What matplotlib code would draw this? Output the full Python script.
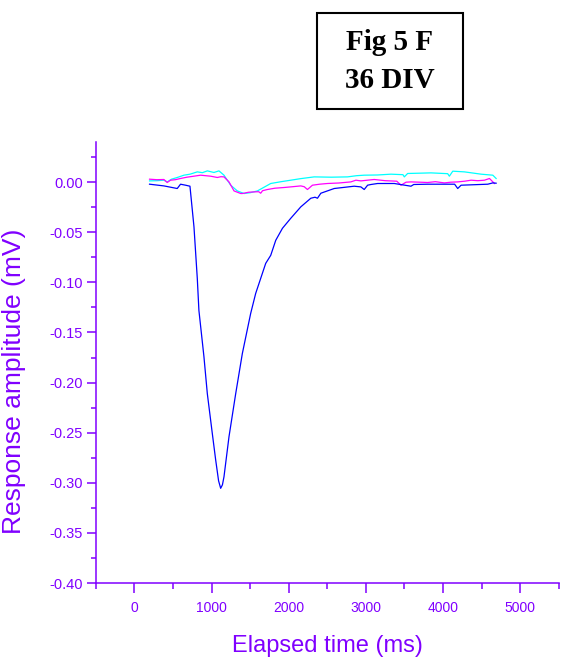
import numpy as np
import matplotlib
matplotlib.use("Agg")
import matplotlib.pyplot as plt
from matplotlib.patches import Rectangle
from matplotlib.ticker import MultipleLocator

# traces (time in ms, response in mV)
t_blue = [195, 381, 554, 597, 662, 719, 771, 814, 835, 900, 944, 1009, 1052, 1090, 1117,
          1140, 1160, 1225, 1312, 1398, 1506, 1571, 1636, 1701, 1766, 1831, 1918, 2026,
          2156, 2286, 2340, 2372, 2416, 2589, 2848, 2935, 2978, 3022, 3065, 3152, 3368,
          3584, 3620, 3801, 4150, 4190, 4234, 4580, 4645, 4688]
v_blue = [-0.002, -0.0037, -0.0063, -0.002, -0.003, -0.004, -0.0446, -0.096, -0.128,
          -0.174, -0.211, -0.251, -0.277, -0.298, -0.3055, -0.302, -0.294, -0.254, -0.211,
          -0.171, -0.131, -0.111, -0.096, -0.081, -0.073, -0.058, -0.046, -0.036, -0.0246,
          -0.016, -0.015, -0.016, -0.011, -0.0063, -0.004, -0.0047, -0.0073, -0.003,
          -0.0023, -0.0013, -0.0013, -0.004, -0.0023, -0.002, -0.002, -0.0063, -0.003,
          -0.002, -0.0007, -0.001]

t_mag = [195, 290, 381, 424, 467, 530, 597, 680, 771, 857, 920, 987, 1074, 1120, 1160,
         1225, 1290, 1377, 1398, 1480, 1550, 1610, 1636, 1660, 1723, 1820, 1939, 2050,
         2156, 2200, 2242, 2307, 2400, 2502, 2650, 2805, 2870, 2935, 3020, 3108, 3250,
         3400, 3455, 3520, 3584, 3700, 3801, 3900, 4017, 4100, 4190, 4280, 4364, 4450,
         4537, 4602, 4666]
v_mag = [0.003, 0.0025, 0.0027, -0.0003, 0.002, 0.0025, 0.0037, 0.005, 0.006, 0.007,
         0.0065, 0.006, 0.0047, 0.0055, 0.0053, 0.0003, -0.0087, -0.0113, -0.0113,
         -0.010, -0.0097, -0.0095, -0.011, -0.0085, -0.0073, -0.006, -0.0053, -0.0045,
         -0.0037, -0.0045, -0.0073, -0.003, -0.002, -0.0013, -0.0008, 0.0003, 0.002,
         0.0013, 0.002, 0.0027, 0.0015, 0.001, -0.003, 0.0, 0.0003, 0.0, -0.0003, 0.0005,
         -0.0007, 0.0, 0.0003, 0.001, 0.002, 0.0015, 0.002, 0.0037, -0.0013]

t_cyan = [195, 290, 381, 424, 480, 554, 641, 720, 814, 880, 944, 1030, 1095, 1160, 1247,
          1333, 1420, 1500, 1593, 1680, 1766, 1900, 2026, 2150, 2329, 2550, 2762, 2880,
          2978, 3150, 3325, 3480, 3498, 3541, 3700, 3844, 4060, 4082, 4126, 4277, 4400,
          4494, 4645, 4688]
v_cyan = [0.0013, 0.0015, 0.002, 0.0003, 0.003, 0.0047, 0.007, 0.008, 0.0103, 0.0095,
          0.0113, 0.0097, 0.0113, 0.007, -0.003, -0.0087, -0.0113, -0.0105, -0.0087,
          -0.005, -0.0013, 0.0005, 0.002, 0.0035, 0.0053, 0.005, 0.0053, 0.0065, 0.007,
          0.0072, 0.008, 0.0075, 0.0053, 0.0087, 0.009, 0.0093, 0.0085, 0.006, 0.011,
          0.0103, 0.009, 0.008, 0.007, 0.0037]

purple = "#8000ff"

fig = plt.figure(figsize=(5.61, 6.61), dpi=100)
ax = fig.add_axes([0.171, 0.118, 0.825, 0.667])

ax.plot(t_cyan, v_cyan, color="#00ffff", lw=0.9)
ax.plot(t_mag, v_mag, color="#ff00ff", lw=0.9)
ax.plot(t_blue, v_blue, color="#0000ff", lw=0.9)

ax.set_xlim(-500, 5500)
ax.set_ylim(-0.40, 0.04)
ax.xaxis.set_major_locator(MultipleLocator(1000))
ax.xaxis.set_minor_locator(MultipleLocator(500))
ax.yaxis.set_major_locator(MultipleLocator(0.05))
ax.yaxis.set_minor_locator(MultipleLocator(0.025))
ax.yaxis.set_major_formatter(matplotlib.ticker.FormatStrFormatter("%.2f"))

for s in ["top", "right"]:
    ax.spines[s].set_visible(False)
for s in ["left", "bottom"]:
    ax.spines[s].set_color(purple)
    ax.spines[s].set_linewidth(1.1)

ax.tick_params(axis="both", which="both", colors=purple, width=1.1)
ax.tick_params(axis="x", which="major", length=7, pad=6, labelsize=10)
ax.tick_params(axis="x", which="minor", length=4.5)
ax.tick_params(axis="y", which="major", length=6.5, pad=3, labelsize=10.5)
ax.tick_params(axis="y", which="minor", length=3.5)
for lab in ax.get_xticklabels() + ax.get_yticklabels():
    lab.set_family("Liberation Sans")

ax.set_xlabel("Elapsed time (ms)", color=purple, fontsize=17, family="Liberation Sans")
ax.set_ylabel("Response amplitude (mV)", color=purple, fontsize=19, family="Liberation Sans")
ax.xaxis.set_label_coords(0.5, -0.118)
ax.yaxis.set_label_coords(-0.151, 0.458)

# boxed figure tag
fig.patches.append(Rectangle((317 / 561, 1 - 109 / 661), 146 / 561, 96 / 661,
                             transform=fig.transFigure, fill=False, ec="black", lw=1.5))
fig.text(390 / 561, 1 - 43 / 661, "Fig 5 F", ha="center", va="center",
         fontsize=21, fontweight="bold", family="Liberation Serif")
fig.text(390 / 561, 1 - 80 / 661, "36 DIV", ha="center", va="center",
         fontsize=21, fontweight="bold", family="Liberation Serif")

fig.savefig("out.png", dpi=100)
